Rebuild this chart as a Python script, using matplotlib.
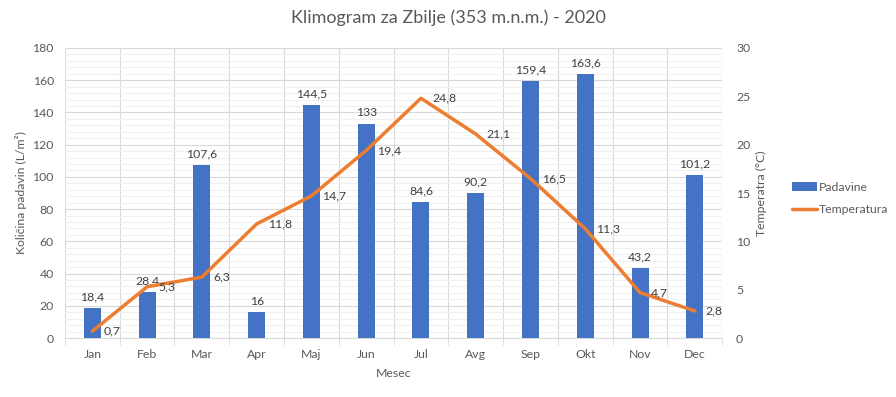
import matplotlib
matplotlib.use("Agg")
import matplotlib.pyplot as plt
import numpy as np
from matplotlib.ticker import MultipleLocator

months = ["Jan", "Feb", "Mar", "Apr", "Maj", "Jun", "Jul", "Avg", "Sep", "Okt", "Nov", "Dec"]
padavine = [18.4, 28.4, 107.6, 16, 144.5, 133, 84.6, 90.2, 159.4, 163.6, 43.2, 101.2]
temperatura = [0.7, 5.3, 6.3, 11.8, 14.7, 19.4, 24.8, 21.1, 16.5, 11.3, 4.7, 2.8]

def fmt(v):
    s = ("%g" % v).replace(".", ",")
    return s

plt.rcParams['font.family'] = ['Lato', 'DejaVu Sans']
TXT = "#595959"
GRID = "#D9D9D9"
MINOR = "#F0F0F0"
FS = 8.8

fig = plt.figure(figsize=(8.96, 3.97), dpi=100)
ax = fig.add_axes([0.0725, 0.1486, 0.7335, 0.7305])
ax2 = ax.twinx()

x = np.arange(len(months))
bars = ax.bar(x, padavine, width=0.31, color="#4472C4", zorder=3, label="Padavine")
line, = ax2.plot(x, temperatura, color="#ED7D31", lw=2.5, zorder=4, label="Temperatura",
                 solid_capstyle="round")

ax.set_xlim(-0.5, 11.5)
ax.set_ylim(0, 180)
ax2.set_ylim(0, 30)
ax.yaxis.set_major_locator(MultipleLocator(20))
ax.yaxis.set_minor_locator(MultipleLocator(4))
ax2.yaxis.set_major_locator(MultipleLocator(5))

ax.set_xticks(x)
ax.set_xticklabels(months)
ax.set_xticks(np.arange(-0.5, 12, 1), minor=True)
ax.tick_params(axis="x", which="major", length=0, colors=TXT, labelsize=FS, pad=8)
ax.tick_params(axis="x", which="minor", length=5, color=GRID)
ax.tick_params(axis="y", which="both", length=0, colors=TXT, labelsize=FS, pad=8)
ax2.tick_params(axis="y", which="both", length=0, colors=TXT, labelsize=FS, pad=10)

ax.grid(axis="y", which="minor", color=MINOR, lw=0.8, zorder=0)
ax.grid(axis="y", which="major", color=GRID, lw=0.8, zorder=0)
ax.grid(axis="x", which="minor", color=GRID, lw=0.8, zorder=0)
ax.set_axisbelow(True)

for sp in ["top", "left", "right"]:
    ax.spines[sp].set_visible(False)
    ax2.spines[sp].set_visible(False)
ax.spines["bottom"].set_color(GRID)
ax2.spines["bottom"].set_visible(False)

for xi, v in zip(x, padavine):
    ax.annotate(fmt(v), (xi, v), xytext=(0, 4), textcoords="offset points",
                ha="center", va="bottom", fontsize=FS, color="#404040", zorder=5)
for xi, v in zip(x, temperatura):
    ax2.annotate(fmt(v), (xi, v), xytext=(8, 0), textcoords="offset points",
                 ha="left", va="center", fontsize=FS, color="#404040", zorder=5)

ax.set_xlabel("Mesec", color=TXT, fontsize=FS, labelpad=6)
ax.set_ylabel("Količina padavin (L/m²)", color=TXT, fontsize=FS, labelpad=4)
ax2.set_ylabel("Temperatra (°C)", color=TXT, fontsize=FS, labelpad=4)

fig.suptitle("Klimogram za Zbilje (353 m.n.m.) - 2020", color=TXT, fontsize=13, y=0.975)

fig.legend(handles=[bars, line], labels=["Padavine", "Temperatura"],
           loc="center left", bbox_to_anchor=(0.872, 0.5), frameon=False,
           fontsize=FS, labelcolor=TXT, handlelength=2.0, handletextpad=0.2,
           labelspacing=0.9)

fig.savefig("out.png", dpi=100, facecolor="white")
